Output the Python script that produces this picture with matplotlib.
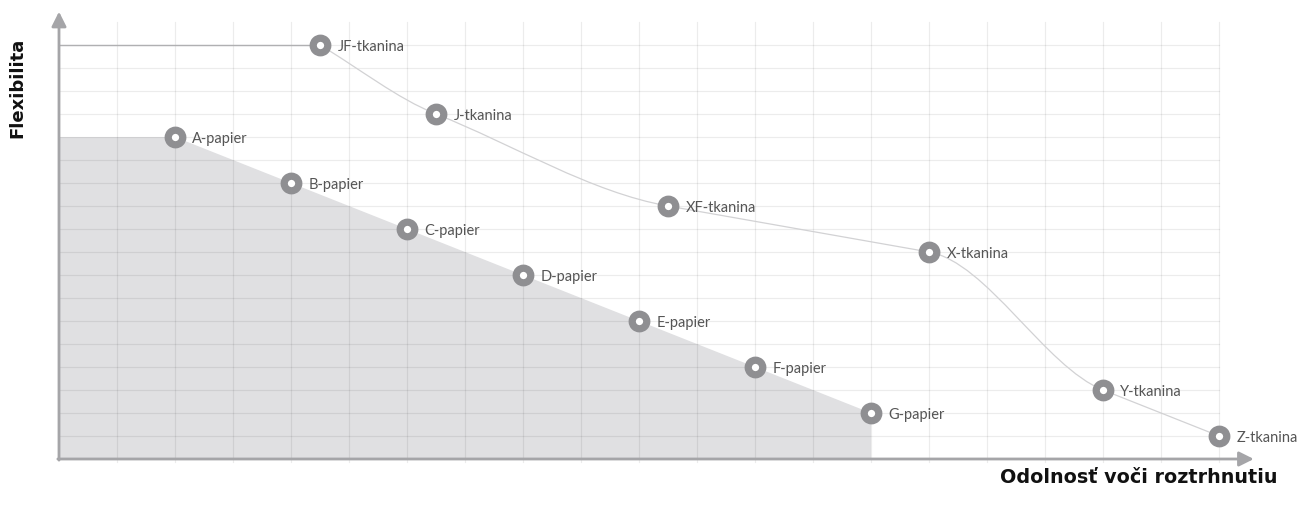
import matplotlib.pyplot as plt
from matplotlib.path import Path
from matplotlib.patches import PathPatch
import numpy as np

# papier series (resistance vs flexibility)
papier_names = ['A-papier', 'B-papier', 'C-papier', 'D-papier', 'E-papier', 'F-papier', 'G-papier']
papier_x = [2, 4, 6, 8, 10, 12, 14]
papier_y = [14, 12, 10, 8, 6, 4, 2]

# tkanina series
tkanina_names = ['JF-tkanina', 'J-tkanina', 'XF-tkanina', 'X-tkanina', 'Y-tkanina', 'Z-tkanina']
tkanina_x = [4.5, 6.5, 10.5, 15, 18, 20]
tkanina_y = [18, 15, 11, 9, 3, 1]

x_label = 'Odolnosť voči roztrhnutiu'
y_label = 'Flexibilita'

GRID_COLS = 20
GRID_ROWS = 18

axis_col = '#a5a5a8'
marker_col = '#8f8f92'
fill_col = '#e0e0e2'

fig = plt.figure(figsize=(12.97, 5.10), dpi=100)
ax = fig.add_axes([59 / 1297, 50 / 510, 21 * 58 / 1297, 19.5 * 23 / 510])
ax.set_xlim(0, 21)
ax.set_ylim(0, 19.5)
ax.axis('off')

# grey area under the papier line
fx = [0, 0] + papier_x + [papier_x[-1]]
fy = [0, papier_y[0]] + papier_y + [0]
ax.fill(fx, fy, color=fill_col, lw=0, zorder=1)

# grid
for i in range(1, GRID_COLS + 1):
    ax.plot([i, i], [-0.12, 19], color=(0, 0, 0, 0.075), lw=0.9, zorder=2, clip_on=False)
for j in range(1, GRID_ROWS + 1):
    ax.plot([0, GRID_COLS], [j, j], color=(0, 0, 0, 0.075), lw=0.9, zorder=2)

# line from axis to first tkanina point
ax.plot([0, tkanina_x[0]], [tkanina_y[0], tkanina_y[0]], color='#b0b0b2', lw=1.0, zorder=3)

# smooth curve through tkanina points (hermite segments as bezier path)
px = np.array(tkanina_x, dtype=float)
py = np.array(tkanina_y, dtype=float)
seg = np.diff(py) / np.diff(px)
tang = np.empty(len(px))
tang[0] = seg[0]
tang[-1] = seg[-1]
for i in range(1, len(px) - 1):
    tang[i] = seg[i - 1] if abs(seg[i - 1]) < abs(seg[i]) else seg[i]
verts = [(px[0], py[0])]
codes = [Path.MOVETO]
for i in range(len(px) - 1):
    h = px[i + 1] - px[i]
    verts += [(px[i] + h / 3, py[i] + tang[i] * h / 3),
              (px[i + 1] - h / 3, py[i + 1] - tang[i + 1] * h / 3),
              (px[i + 1], py[i + 1])]
    codes += [Path.CURVE4] * 3
ax.add_patch(PathPatch(Path(verts, codes), facecolor='none', edgecolor='#d2d2d4', lw=0.9, zorder=3))

# axes with arrows
ax.annotate('', xy=(0, 19.45), xytext=(0, -0.05),
            arrowprops=dict(arrowstyle='-|>', color=axis_col, lw=2, mutation_scale=22,
                            shrinkA=0, shrinkB=0), zorder=5)
ax.annotate('', xy=(20.6, 0), xytext=(-0.02, 0),
            arrowprops=dict(arrowstyle='-|>', color=axis_col, lw=2, mutation_scale=22,
                            shrinkA=0, shrinkB=0), zorder=5)

# markers and labels
allx = papier_x + tkanina_x
ally = papier_y + tkanina_y
alln = papier_names + tkanina_names
ax.plot(allx, ally, 'o', ms=10.5, mfc='white', mec=marker_col, mew=5.2, zorder=6, clip_on=False)
for xx, yy, nm in zip(allx, ally, alln):
    ax.annotate(nm, (xx, yy), xytext=(12.5, -0.5), textcoords='offset points',
                va='center', ha='left', fontsize=10.5, color='#555555',
                family='Lato', zorder=7)

fig.text(17 / 1297, 1 - 88 / 510, y_label, rotation=90, ha='center', va='center',
         fontsize=13, fontweight='bold', family='DejaVu Sans', color='#111111')
fig.text(1278 / 1297, 1 - 478 / 510, x_label, ha='right', va='center',
         fontsize=13.8, fontweight='bold', family='DejaVu Sans', color='#111111')

fig.savefig('out.png', dpi=100)
